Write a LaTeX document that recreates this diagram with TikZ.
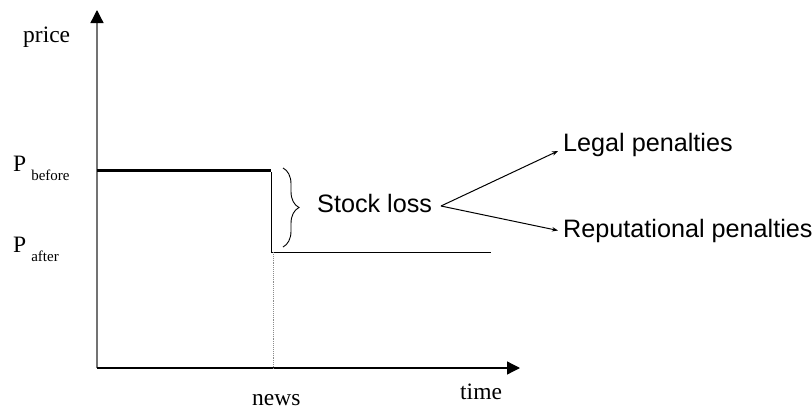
\documentclass[tikz,border=0pt]{standalone}
\usepackage{fontspec}
\setmainfont{Liberation Serif}
\setsansfont{Liberation Sans}
\usetikzlibrary{positioning, arrows.meta, decorations.pathreplacing}

% price level label: P with lowered word
\newcommand{\plevel}[1]{P\hspace{5pt}\raisebox{-9pt}{\fontsize{15}{16}\selectfont #1}}

\begin{document}
\begin{tikzpicture}[x=1pt, y=-1pt,
    serif/.style={font=\fontsize{23.5}{26}\selectfont, inner sep=0pt, anchor=base west},
    sans/.style={font=\sffamily\fontsize{25.2}{28}\selectfont, inner sep=5pt, anchor=base west},
    axis/.style={-{Triangle[length=13pt, width=13pt, black]}, line width=1.3pt},
    level/.style={line width=1pt},
    arr/.style={-{Stealth[length=6pt, width=4.5pt]}, line width=1pt},
]
\useasboundingbox (0,0) rectangle (812,410);

% axes
\coordinate (origin) at (97,368);
\coordinate (ytop)   at (97,10);
\coordinate (xend)   at (520,368);
\draw[axis, black!55] (origin) -- (ytop);
\draw[axis] (origin) -- (xend);

% axis labels
\node[serif] (price) at (23,42)  {price};
\node[serif] (time)  at (460,399) {time};
\node[serif] (news)  at (252,405) {news};

% price levels
\node[serif] (pbefore) at (13,171) {\plevel{before}};
\node[serif] (pafter)  at (13,252) {\plevel{after}};

% price path
\coordinate (before0) at (97,170);
\coordinate (before1) at (271,170);
\coordinate (drop0)   at (271,172);
\coordinate (drop1)   at (271,252);
\coordinate (after1)  at (491,252);
\coordinate (newsx)   at (273,368);
\draw[line width=3pt] (before0) -- (before1);
\draw[level] (drop0) -- (drop1) -- (after1);
\draw[black!45, densely dotted, line width=0.9pt] (drop1 -| newsx) -- (newsx);

% stock loss brace
\coordinate (btop) at (283,168);
\coordinate (bbot) at (283,247);
\draw[decorate, decoration={brace, amplitude=16pt}, line width=0.9pt] (btop) -- (bbot);
\node[sans] (loss) at (312,212) {Stock loss};

% penalties
\node[sans] (legal) at (558,151) {Legal penalties};
\node[sans] (reput) at (558,237) {Reputational penalties};
\coordinate (fork) at (441,206);
\draw[arr] (fork) -- (legal.base west);
\draw[arr] (fork) -- (reput.west);

\end{tikzpicture}
\end{document}
